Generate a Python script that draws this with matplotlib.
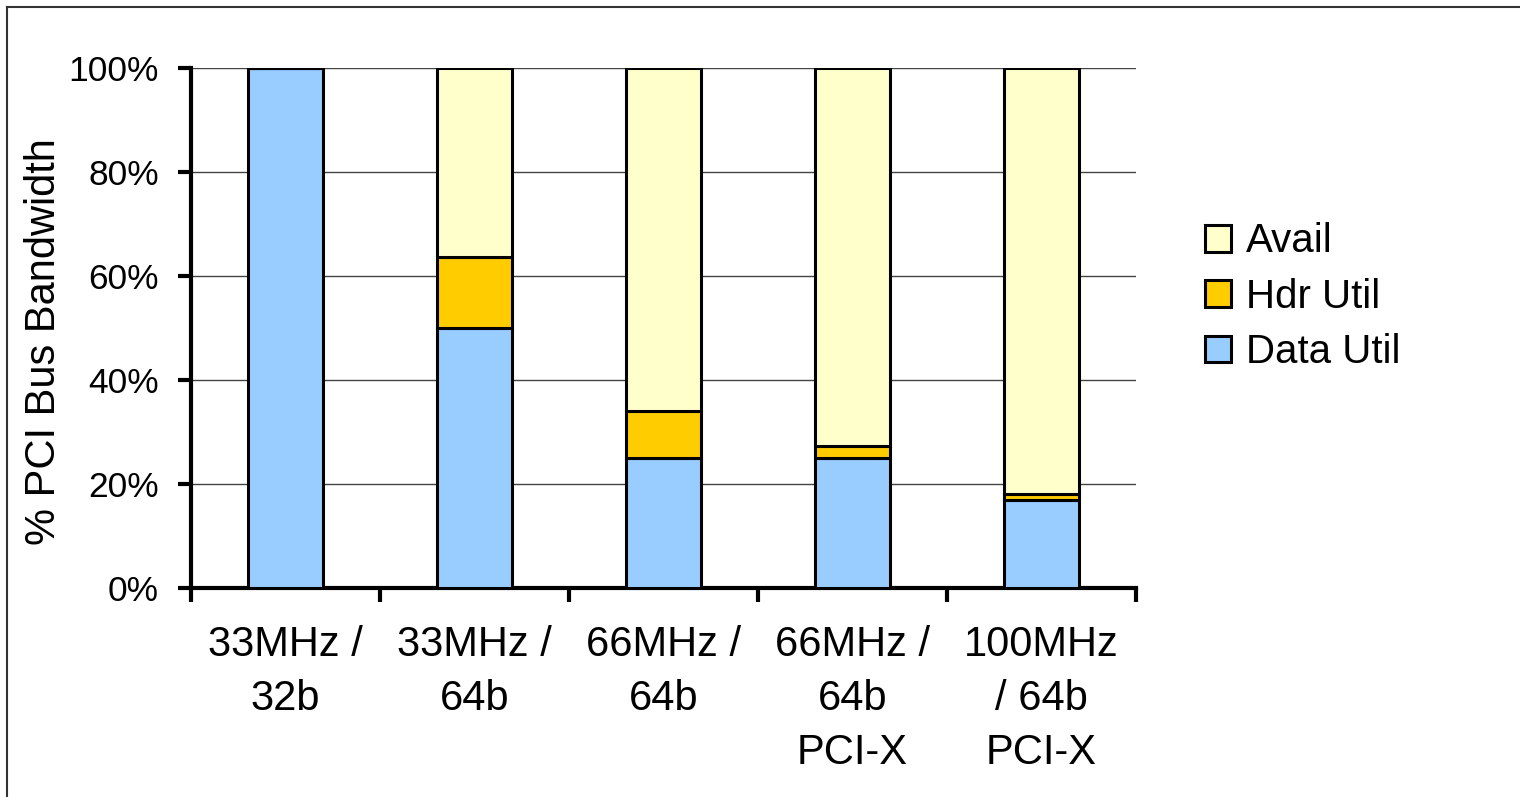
import numpy as np
import matplotlib.pyplot as plt
from matplotlib.lines import Line2D

plt.rcParams['font.family'] = ['Liberation Sans', 'DejaVu Sans']

# Data (percent of PCI bus bandwidth)
categories = ['33MHz /\n32b', '33MHz /\n64b', '66MHz /\n64b',
              '66MHz /\n64b\nPCI-X', '100MHz\n/ 64b\nPCI-X']
data_util = [100, 50, 25, 25, 17]
hdr_util = [0, 13.7, 9, 2.3, 1]
avail = [100 - d - h for d, h in zip(data_util, hdr_util)]

c_data = '#99CCFF'
c_hdr = '#FFCC00'
c_avail = '#FFFFCC'

fig = plt.figure(figsize=(15.2, 7.97), dpi=100)
ax = fig.add_axes([0.1257, 0.2622, 0.6217, 0.6525])

x = np.arange(len(categories))
w = 0.4
kw = dict(width=w, edgecolor='black', linewidth=2.2, zorder=3)
b1 = ax.bar(x, data_util, color=c_data, label='Data Util', **kw)
b2 = ax.bar(x, hdr_util, bottom=data_util, color=c_hdr, label='Hdr Util', **kw)
bottom2 = [d + h for d, h in zip(data_util, hdr_util)]
b3 = ax.bar(x, avail, bottom=bottom2, color=c_avail, label='Avail', **kw)

ax.set_xlim(-0.5, len(categories) - 0.5)
ax.set_ylim(0, 100)
ax.set_yticks(range(0, 101, 20))
ax.set_yticklabels([f'{v}%' for v in range(0, 101, 20)], fontsize=25.5)
ax.yaxis.grid(True, color='#444444', linewidth=1.0, zorder=0)
ax.set_axisbelow(True)

# category labels centered, tick marks between categories
ax.set_xticks(np.arange(-0.5, len(categories), 1))
ax.set_xticklabels([])
ax.set_xticks(x, minor=True)
ax.set_xticklabels(categories, minor=True, fontsize=30, linespacing=1.45)
ax.tick_params(axis='x', which='minor', length=0, pad=26.5)
ax.tick_params(axis='x', which='major', length=10, width=3)
ax.tick_params(axis='y', length=9.5, width=3, pad=13.5)

for s in ['top', 'right']:
    ax.spines[s].set_visible(False)
ax.spines['left'].set_linewidth(3)
ax.spines['bottom'].set_linewidth(3)

ax.set_ylabel('% PCI Bus Bandwidth', fontsize=30)
ax.yaxis.set_label_coords(-0.1344, 0.473)

leg = ax.legend(handles=[b3, b2, b1], loc='center left',
                bbox_to_anchor=(1.0346, 0.56), frameon=False, fontsize=29,
                handlelength=0.65, handleheight=0.65, handletextpad=0.37,
                labelspacing=0.43)

# outer border (top and left edges visible)
fig.add_artist(Line2D([6.5 / 1520, 1], [1 - 7 / 797, 1 - 7 / 797],
                      color='#333333', linewidth=1.5, transform=fig.transFigure))
fig.add_artist(Line2D([6.5 / 1520, 6.5 / 1520], [0, 1 - 7 / 797],
                      color='#333333', linewidth=1.5, transform=fig.transFigure))

fig.savefig('out.png', dpi=100)
